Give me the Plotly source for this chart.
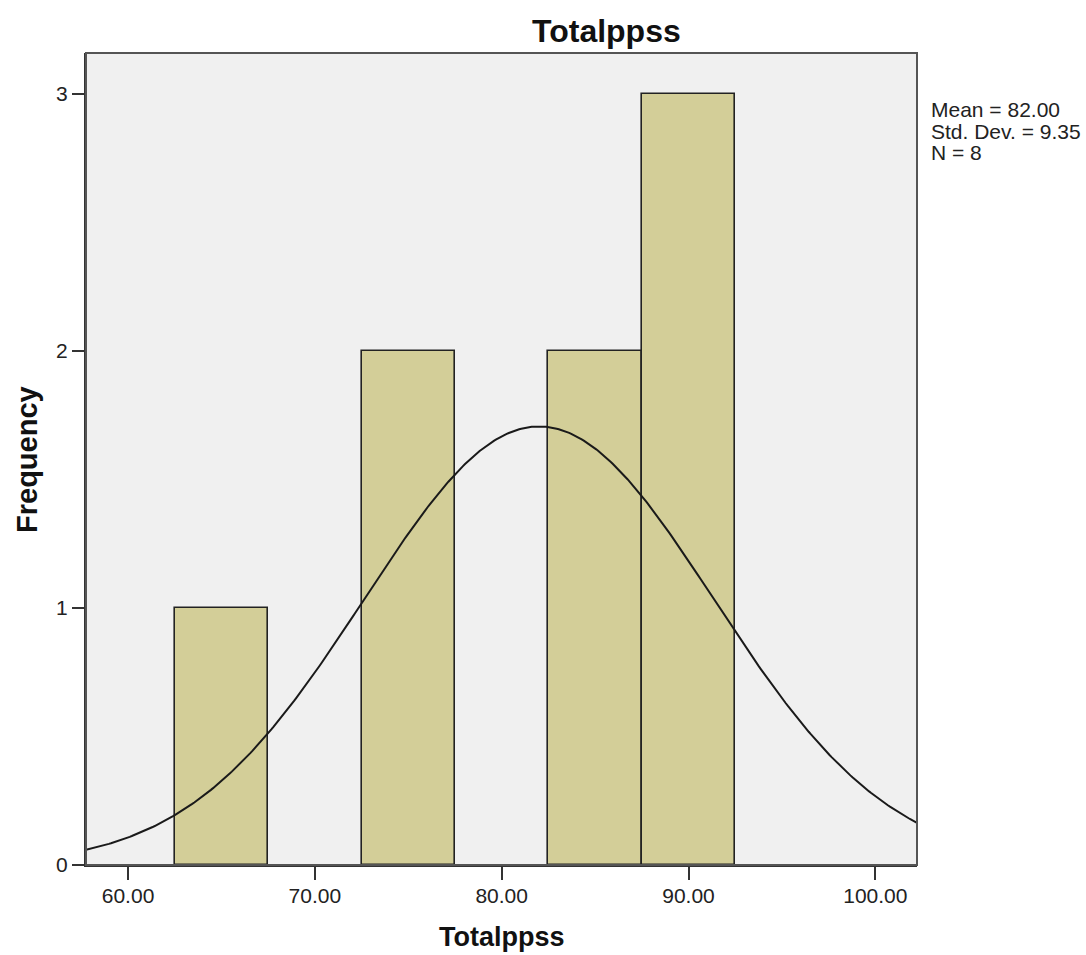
import numpy as np
import plotly.graph_objects as go

# Data
bin_centers = [65.0, 75.0, 85.0, 90.0]
bin_counts = [1, 2, 2, 3]
bin_width = 5.0
mean_val = 82.00
std_val = 9.35
n_val = 8
x_ticks = [60, 70, 80, 90, 100]
x_tick_labels = ["60.00", "70.00", "80.00", "90.00", "100.00"]
y_ticks = [0, 1, 2, 3]
stats_lines = [f"Mean = {mean_val:.2f}", f"Std. Dev. = {std_val:.2f}", f"N = {n_val}"]

FONT = "Arial, Liberation Sans, sans-serif"

# plot area in page px: x 86..917, y 53..865 (body margin removed via post_script)
W, H = 1086, 955
L, T = 86, 53
PW, PH = 831, 812
R = W - L - PW
B = H - T - PH


def px(xp):
    return (xp - L) / PW


def py(yp):
    return (T + PH - yp) / PH


xc = np.linspace(57.75, 102.23, 400)
yc = n_val * bin_width * np.exp(-0.5 * ((xc - mean_val) / std_val) ** 2) / (std_val * np.sqrt(2 * np.pi))

fig = go.Figure()
fig.add_trace(go.Bar(
    x=bin_centers, y=bin_counts, width=bin_width,
    marker=dict(color="#D3CE98", line=dict(color="#222222", width=1.6)),
    hoverinfo="x+y", showlegend=False,
))
fig.add_trace(go.Scatter(
    x=xc, y=yc, mode="lines", line=dict(color="#1a1a1a", width=2),
    hoverinfo="skip", showlegend=False,
))

annotations = [
    dict(text="<b>Totalppss</b>", x=px(606), y=py(31), xanchor="center", yanchor="middle",
         font=dict(family=FONT, size=32, color="#111111")),
    dict(text="<b>Totalppss</b>", x=px(502), y=py(937), xanchor="center", yanchor="middle",
         font=dict(family=FONT, size=27, color="#111111")),
    dict(text="<b>Frequency</b>", x=px(27), y=py(459), xanchor="center", yanchor="middle",
         textangle=-90, font=dict(family=FONT, size=29, color="#111111")),
]
for i, line in enumerate(stats_lines):
    annotations.append(dict(text=line, x=px(929), y=py(109 + 22 * i), xanchor="left", yanchor="middle",
                            align="left", font=dict(family=FONT, size=21, color="#222222")))
for a in annotations:
    a.update(xref="paper", yref="paper", showarrow=False)

fig.update_layout(
    width=W, height=H,
    margin=dict(l=L, r=R, t=T, b=B, autoexpand=False),
    paper_bgcolor="white", plot_bgcolor="#F0F0F0",
    font=dict(family=FONT, size=21, color="#222222"),
    bargap=0,
    xaxis=dict(
        range=[57.75, 102.23], tickmode="array", tickvals=x_ticks, ticktext=x_tick_labels,
        ticks="outside", ticklen=13, tickwidth=2, tickcolor="#333333",
        showline=True, linecolor="#333333", linewidth=2, mirror=False,
        showgrid=False, zeroline=False, ticklabelstandoff=-2,
        tickfont=dict(family=FONT, size=21, color="#222222"),
    ),
    yaxis=dict(
        range=[0, 3.16], tickmode="array", tickvals=y_ticks,
        ticks="outside", ticklen=12, tickwidth=2, tickcolor="#333333",
        showline=True, linecolor="#333333", linewidth=2, mirror=False,
        showgrid=False, zeroline=False,
        tickfont=dict(family=FONT, size=21, color="#222222"),
    ),
    shapes=[dict(type="rect", xref="paper", yref="paper", x0=0, x1=1, y0=0, y1=1,
                 line=dict(color="#555555", width=2), fillcolor="rgba(0,0,0,0)", layer="above")],
    annotations=annotations,
)

fig.write_html(
    "out.html",
    config={"displayModeBar": False},
    post_script="document.body.style.margin='0';document.body.style.overflow='hidden';",
)
